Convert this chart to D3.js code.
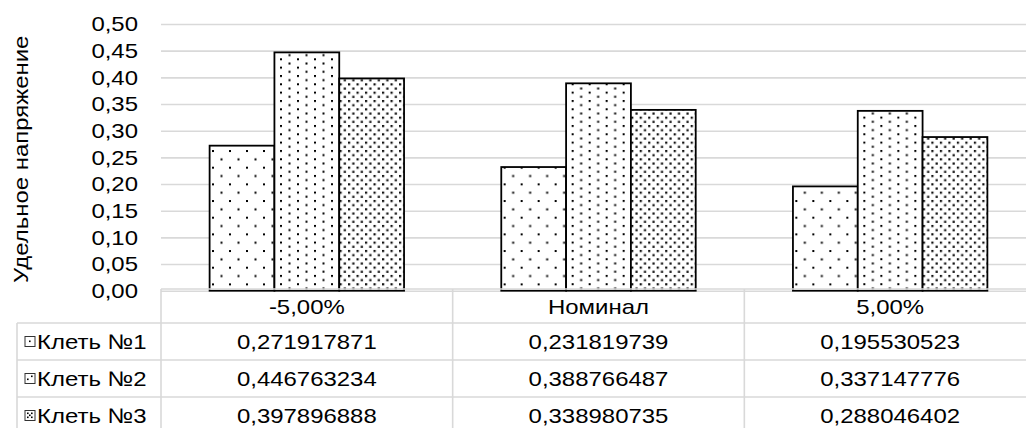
<!DOCTYPE html>
<html>
<head>
<meta charset="utf-8">
<script src="https://cdn.jsdelivr.net/npm/d3@7"></script>
<style>
  body { margin: 0; background: #fff; }
  svg { display: block; }
  text { font-family: "Liberation Sans", Arial, sans-serif; fill: #000; }
</style>
</head>
<body>
<svg id="chart" width="1026" height="428"></svg>
<script>
// Data
const categories = ["-5,00%", "Номинал", "5,00%"];
const seriesNames = ["Клеть №1", "Клеть №2", "Клеть №3"];
const stand1 = [0.271917871, 0.231819739, 0.195530523];
const stand2 = [0.446763234, 0.388766487, 0.337147776];
const stand3 = [0.397896888, 0.338980735, 0.288046402];
const yTicks = [0, 0.05, 0.10, 0.15, 0.20, 0.25, 0.30, 0.35, 0.40, 0.45, 0.50];
const yTitle = "Удельное напряжение";

const seriesValues = [stand1, stand2, stand3];
const patternIds = ["pat1", "pat2", "pat3"];

const W = 1026, H = 428;
const plot = { left: 161, right: 1036, top: 24, bottom: 290.7 };
const rowsY = [289, 323, 360, 397, 434];
const tableLeft = 17;
const fontSize = 21;
const widen = 1.14; // glyphs are drawn slightly wide

const ru = d3.formatLocale({ decimal: ",", thousands: " ", grouping: [3], currency: ["", ""] });
const fmtTick = ru.format(".2f");
const fmtVal = ru.format(".9f");

const svg = d3.select("#chart");

// Stretch a text selection horizontally along its baseline
function stretch(sel) {
  sel.each(function () {
    const len = this.getComputedTextLength();
    d3.select(this).attr("textLength", len * widen).attr("lengthAdjust", "spacingAndGlyphs");
  });
  return sel;
}

// Fill patterns for the three series
const defs = svg.append("defs");
function dotPattern(id, w, h, dots, size, color) {
  const p = defs.append("pattern").attr("id", id)
    .attr("patternUnits", "userSpaceOnUse")
    .attr("width", w).attr("height", h);
  p.append("rect").attr("width", w).attr("height", h).attr("fill", "#fff");
  dots.forEach(([dx, dy]) => {
    p.append("rect").attr("x", dx).attr("y", dy)
      .attr("width", size).attr("height", size).attr("fill", color);
  });
}
dotPattern("pat1", 17, 16.67, [[0, 0], [8.5, 8.33]], 2, "#000");
dotPattern("pat2", 17, 8.33, [[0, 0], [8.5, 4.17]], 2, "#000");
dotPattern("pat3", 8.5, 8.33, [[0, 0], [4.25, 4.17]], 2.2, "#111");

const y = d3.scaleLinear().domain([0, 0.5]).range([plot.bottom, plot.top]);
const x0 = d3.scaleBand().domain(categories).range([plot.left, plot.right]).padding(0);
const bw = x0.bandwidth();
const x1 = d3.scaleBand().domain(seriesNames).range([bw / 6, bw * 5 / 6]).padding(0);

// Gridlines and tick labels
const yAxis = d3.axisLeft(y).tickValues(yTicks).tickFormat(fmtTick)
  .tickSize(-(plot.right - plot.left)).tickPadding(23);
const gy = svg.append("g").attr("transform", `translate(${plot.left},0)`).call(yAxis);
gy.select(".domain").remove();
gy.selectAll(".tick line").attr("stroke", "#d9d9d9").attr("stroke-width", 1.6);
stretch(gy.selectAll(".tick text").attr("font-size", fontSize)
  .style("font-family", "'Liberation Sans', Arial, sans-serif").attr("fill", "#000"));

// Axis title
stretch(svg.append("text")
  .attr("transform", `translate(28,${(plot.top + plot.bottom) / 2 + 2}) rotate(-90)`)
  .attr("text-anchor", "middle")
  .attr("font-size", fontSize)
  .text(yTitle));

// Bars
const groups = svg.append("g").selectAll("g")
  .data(categories).join("g")
  .attr("transform", d => `translate(${x0(d)},0)`);
groups.selectAll("rect")
  .data((c, ci) => seriesNames.map((s, si) => ({ s, si, v: seriesValues[si][ci] })))
  .join("rect")
  .attr("x", d => x1(d.s))
  .attr("y", d => y(d.v))
  .attr("width", x1.bandwidth())
  .attr("height", d => y(0) - y(d.v))
  .attr("fill", d => `url(#${patternIds[d.si]})`)
  .attr("stroke", "#000")
  .attr("stroke-width", 1.8);

// Data table
const grid = svg.append("g").attr("stroke", "#d9d9d9").attr("stroke-width", 1.6);
grid.append("line").attr("x1", plot.left).attr("x2", W).attr("y1", rowsY[0]).attr("y2", rowsY[0]);
rowsY.slice(1).forEach(ry => {
  grid.append("line").attr("x1", tableLeft).attr("x2", W).attr("y1", ry).attr("y2", ry);
});
grid.append("line").attr("x1", tableLeft).attr("x2", tableLeft).attr("y1", rowsY[1]).attr("y2", H);
categories.forEach(c => {
  grid.append("line").attr("x1", x0(c)).attr("x2", x0(c)).attr("y1", rowsY[0]).attr("y2", H);
});

// Header row: category names
stretch(svg.append("g").selectAll("text").data(categories).join("text")
  .attr("x", d => x0(d) + bw / 2)
  .attr("y", (rowsY[0] + rowsY[1]) / 2 + 7.5)
  .attr("text-anchor", "middle")
  .attr("font-size", fontSize)
  .text(d => d));

// Series rows
seriesNames.forEach((s, si) => {
  const top = rowsY[si + 1], bot = rowsY[si + 2];
  const cy = (top + bot) / 2;
  // legend key
  svg.append("rect")
    .attr("x", 25).attr("y", cy - 5).attr("width", 10).attr("height", 10)
    .attr("fill", "#fff").attr("stroke", "#333").attr("stroke-width", 1);
  const keyDots = [[[4, 4]], [[2, 5], [6, 2]], [[2, 2], [6, 2], [4, 4], [2, 6], [6, 6]]][si];
  keyDots.forEach(([dx, dy]) => {
    svg.append("rect").attr("x", 25 + dx).attr("y", cy - 5 + dy)
      .attr("width", 1.6).attr("height", 1.6).attr("fill", "#000");
  });
  stretch(svg.append("text")
    .attr("x", 37).attr("y", cy + 7.5)
    .attr("font-size", fontSize)
    .text(s));
  stretch(svg.append("g").selectAll("text").data(categories).join("text")
    .attr("x", d => x0(d) + bw / 2)
    .attr("y", cy + 7.5)
    .attr("text-anchor", "middle")
    .attr("font-size", fontSize)
    .text((d, ci) => fmtVal(seriesValues[si][ci])));
});
</script>
</body>
</html>
